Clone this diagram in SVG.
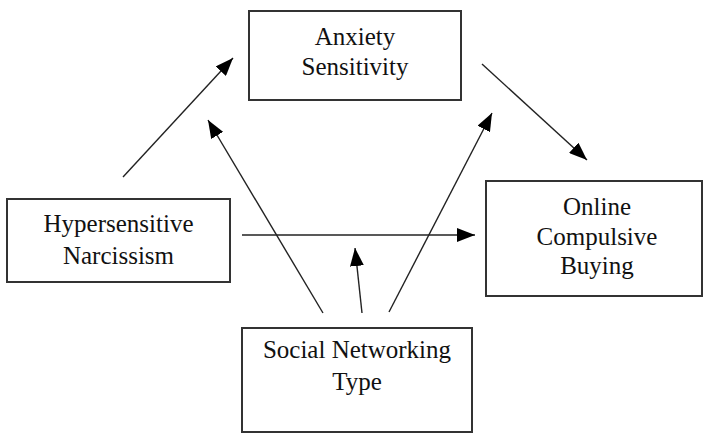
<svg xmlns="http://www.w3.org/2000/svg" width="704" height="433" viewBox="0 0 704 433">
<style>
.box{fill:#fff;stroke:#333;stroke-width:2}
.t{font-family:"Liberation Serif","Times New Roman",serif;font-size:25px;fill:#111;text-anchor:middle}
.c{stroke:#222;stroke-width:1.4;fill:none}
</style>
<defs>
<marker id="ah" markerUnits="userSpaceOnUse" markerWidth="20" markerHeight="14" refX="18" refY="7" orient="auto">
<path d="M0,0 L18,7 L0,14 Z" fill="#000"/>
</marker>
</defs>
<rect width="704" height="433" fill="#fff"/>
<g id="connectors">
<line class="c" x1="123" y1="177" x2="233" y2="58" marker-end="url(#ah)"/>
<line class="c" x1="323" y1="313" x2="208" y2="120" marker-end="url(#ah)"/>
<line class="c" x1="482" y1="64" x2="587" y2="160" marker-end="url(#ah)"/>
<line class="c" x1="389" y1="312" x2="492" y2="113" marker-end="url(#ah)"/>
<line class="c" x1="242" y1="235" x2="475" y2="235" marker-end="url(#ah)"/>
<line class="c" x1="362" y1="313" x2="355" y2="248" marker-end="url(#ah)"/>
</g>
<g id="anxiety">
<rect class="box" x="249" y="11" width="212" height="89"/>
<text class="t" x="355" y="45">Anxiety</text>
<text class="t" x="355" y="75">Sensitivity</text>
</g>
<g id="hypersensitive">
<rect class="box" x="7" y="199" width="223" height="83"/>
<text class="t" x="118.5" y="232">Hypersensitive</text>
<text class="t" x="118.5" y="264">Narcissism</text>
</g>
<g id="online">
<rect class="box" x="486" y="181" width="216" height="115"/>
<text class="t" x="597" y="215">Online</text>
<text class="t" x="597" y="245">Compulsive</text>
<text class="t" x="597" y="274">Buying</text>
</g>
<g id="social">
<rect class="box" x="242" y="328" width="230" height="104"/>
<text class="t" x="357" y="358">Social Networking</text>
<text class="t" x="357" y="390">Type</text>
</g>
</svg>
